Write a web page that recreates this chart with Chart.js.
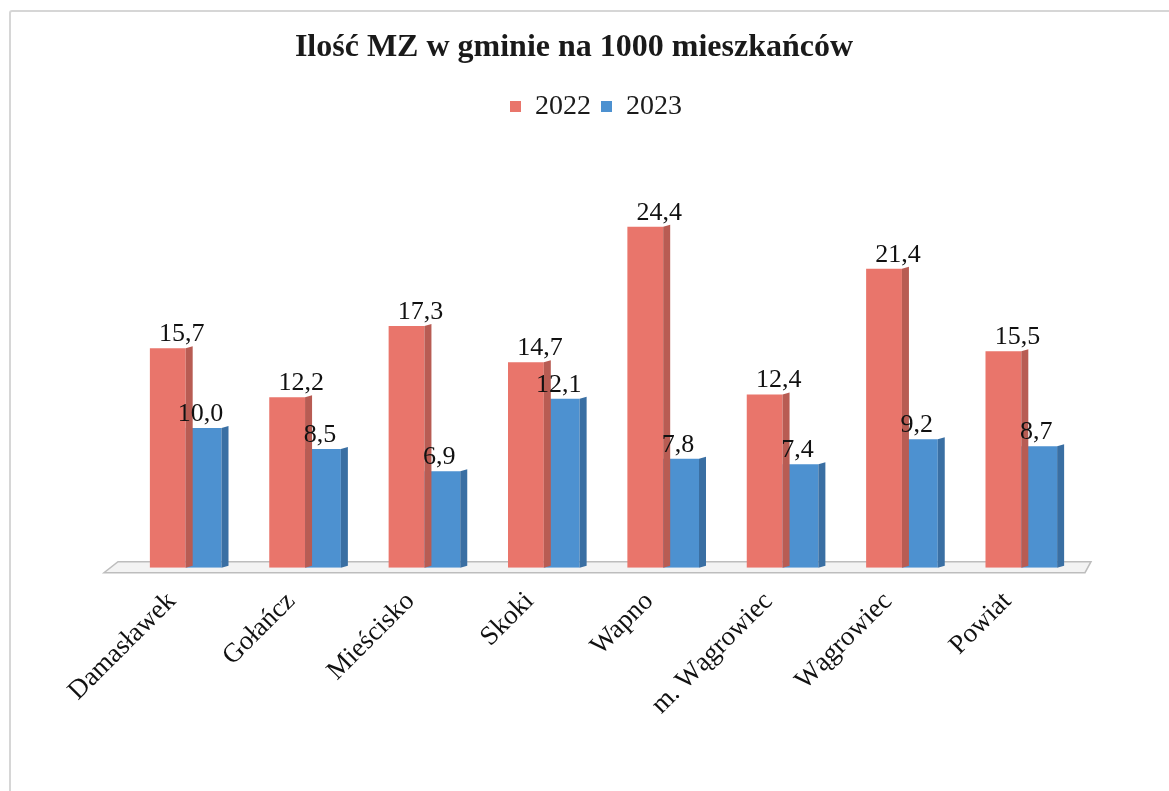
<!DOCTYPE html>
<html>
<head>
<meta charset="utf-8">
<title>Ilość MZ w gminie na 1000 mieszkańców</title>
<script src="https://cdn.jsdelivr.net/npm/chart.js@4.4.1/dist/chart.umd.min.js"></script>
<style>
    html, body { margin: 0; padding: 0; background: #fff; }
    #box { position: absolute; left: 0; top: 0; width: 1169px; height: 791px; }
    #frame { position: absolute; left: 9px; top: 10px; width: 1180px; height: 800px; border: 2px solid #d6d6d6; border-radius: 3px; }
</style>
</head>
<body>
<div id="frame"></div>
<div id="box"><canvas id="mzChart"></canvas></div>
<script>
const gminy = ["Damasławek", "Gołańcz", "Mieścisko", "Skoki", "Wapno", "m. Wągrowiec", "Wągrowiec", "Powiat"];
const mz2022 = [15.7, 12.2, 17.3, 14.7, 24.4, 12.4, 21.4, 15.5];
const mz2023 = [10.0, 8.5, 6.9, 12.1, 7.8, 7.4, 9.2, 8.7];

const SERIF = "'Liberation Serif', 'Times New Roman', serif";
const RED = "#e9756b";
const RED_SIDE = "#b85c53";
const BLUE = "#4d91d0";
const BLUE_SIDE = "#3a6fa3";
const DEPTH = 7;

// extra room under the legend, and legend sits a bit right of the title
const legendGap = {
    id: "legendGap",
    beforeInit(chart) {
        const fit = chart.legend.fit;
        chart.legend.fit = function () {
            fit.bind(this)();
            this.height += 88;
        };
        const draw = chart.legend.draw;
        chart.legend.draw = function () {
            this.ctx.save();
            this.ctx.translate(22, 0);
            draw.bind(this)();
            this.ctx.restore();
        };
    }
};

// grey floor under the bars
const floor = {
    id: "floor",
    beforeDatasetsDraw(chart) {
        const { ctx, chartArea } = chart;
        const l = chartArea.left - 22, r = chartArea.right + 10, b = chartArea.bottom;
        ctx.save();
        ctx.fillStyle = "#f3f3f3";
        ctx.strokeStyle = "#bdbdbd";
        ctx.lineWidth = 1.5;
        ctx.beginPath();
        ctx.moveTo(l + 14, b - 6);
        ctx.lineTo(r, b - 6);
        ctx.lineTo(r - 6, b + 5);
        ctx.lineTo(l, b + 5);
        ctx.closePath();
        ctx.fill();
        ctx.stroke();
        ctx.restore();
    }
};

// right side faces, drawn dataset by dataset so blue covers red
const sides = {
    id: "sides",
    afterDatasetDraw(chart, args) {
        const { ctx } = chart;
        const meta = args.meta;
        const color = args.index === 0 ? RED_SIDE : BLUE_SIDE;
        ctx.save();
        meta.data.forEach(bar => {
            const right = bar.x + bar.width / 2;
            ctx.fillStyle = color;
            ctx.beginPath();
            ctx.moveTo(right, bar.y);
            ctx.lineTo(right + DEPTH, bar.y - 2);
            ctx.lineTo(right + DEPTH, bar.base - 2);
            ctx.lineTo(right, bar.base);
            ctx.closePath();
            ctx.fill();
        });
        ctx.restore();
    }
};

// value labels with comma decimals
const valueLabels = {
    id: "valueLabels",
    afterDatasetsDraw(chart) {
        const { ctx } = chart;
        ctx.save();
        ctx.font = "26px " + SERIF;
        ctx.fillStyle = "#111";
        ctx.textAlign = "center";
        ctx.textBaseline = "alphabetic";
        chart.data.datasets.forEach((ds, i) => {
            const meta = chart.getDatasetMeta(i);
            const shift = i === 0 ? 14 : -3;
            meta.data.forEach((bar, j) => {
                const txt = ds.data[j].toFixed(1).replace(".", ",");
                ctx.fillText(txt, bar.x + shift, bar.y - 7);
            });
        });
        ctx.restore();
    }
};

new Chart(document.getElementById("mzChart"), {
    type: "bar",
    data: {
        labels: gminy,
        datasets: [
            { label: "2022", data: mz2022, backgroundColor: RED, borderWidth: 0 },
            { label: "2023", data: mz2023, backgroundColor: BLUE, borderWidth: 0 }
        ]
    },
    options: {
        responsive: true,
        maintainAspectRatio: false,
        animation: false,
        datasets: {
            bar: { categoryPercentage: 0.6, barPercentage: 1.0 }
        },
        layout: {
            padding: { left: 67, right: 88, top: 0, bottom: 60 }
        },
        plugins: {
            title: {
                display: true,
                text: "Ilość MZ w gminie na 1000 mieszkańców",
                color: "#1a1a1a",
                font: { family: SERIF, size: 32, weight: "bold" },
                padding: { top: 29, bottom: 15 }
            },
            legend: {
                position: "top",
                labels: {
                    color: "#1a1a1a",
                    font: { family: SERIF, size: 28 },
                    boxWidth: 11,
                    boxHeight: 11,
                    padding: 10
                }
            },
            tooltip: { enabled: false }
        },
        scales: {
            x: {
                grid: { display: false },
                border: { display: false },
                ticks: {
                    color: "#111",
                    font: { family: SERIF, size: 27 },
                    minRotation: 45,
                    maxRotation: 45,
                    padding: 10,
                    labelOffset: -14
                }
            },
            y: {
                min: 0,
                max: 25,
                grid: { display: false },
                border: { display: false },
                ticks: { display: false },
                afterFit(scale) { scale.width = 59; }
            }
        }
    },
    plugins: [legendGap, floor, sides, valueLabels]
});
</script>
</body>
</html>
